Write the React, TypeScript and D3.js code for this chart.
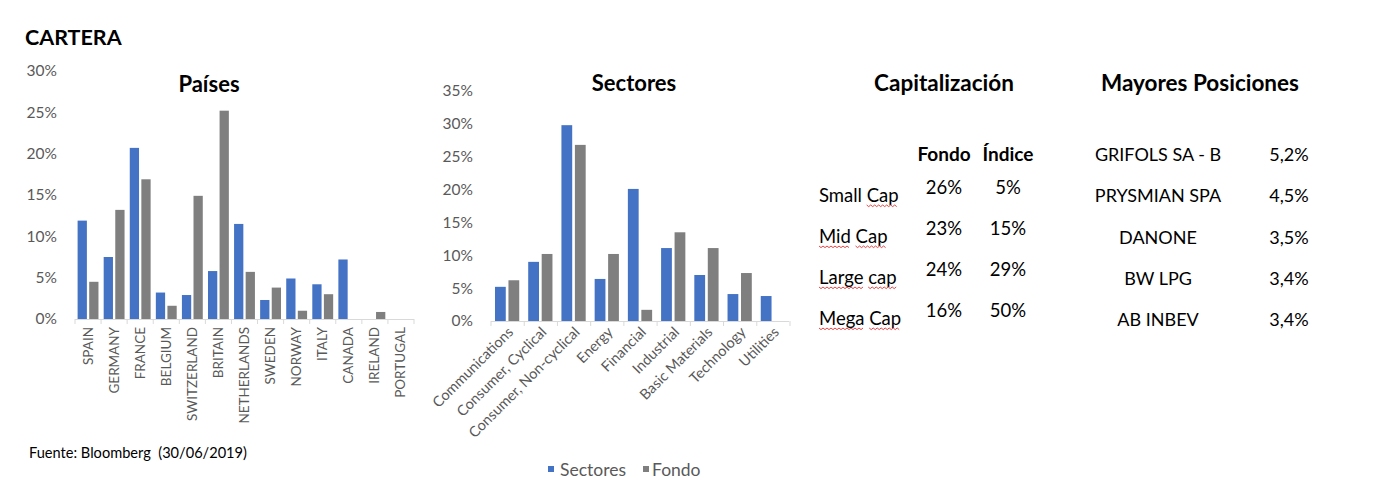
import React, { useLayoutEffect, useRef, useState } from 'react';
import * as d3 from 'd3';

// --- data ---
const countries = ['SPAIN', 'GERMANY', 'FRANCE', 'BELGIUM', 'SWITZERLAND', 'BRITAIN', 'NETHERLANDS', 'SWEDEN', 'NORWAY', 'ITALY', 'CANADA', 'IRELAND', 'PORTUGAL'];
const countryBlue = [11.9, 7.5, 20.7, 3.2, 2.9, 5.8, 11.5, 2.3, 4.9, 4.2, 7.2, 0, 0];
const countryGray = [4.5, 13.2, 16.9, 1.6, 14.9, 25.2, 5.7, 3.8, 1.0, 3.0, 0, 0.85, 0];
const countryTicks = [0, 5, 10, 15, 20, 25, 30];

const sectors = ['Communications', 'Consumer, Cyclical', 'Consumer, Non-cyclical', 'Energy', 'Financial', 'Industrial', 'Basic Materials', 'Technology', 'Utilities'];
const sectorBlue = [5.2, 9.0, 29.8, 6.4, 20.1, 11.1, 7.0, 4.1, 3.8];
const sectorGray = [6.2, 10.2, 26.8, 10.2, 1.7, 13.5, 11.1, 7.3, 0];
const sectorTicks = [0, 5, 10, 15, 20, 25, 30, 35];
const seriesNames = ['Sectores', 'Fondo'];

const capRows = ['Small Cap', 'Mid Cap', 'Large cap', 'Mega Cap'];
const capFondo = ['26%', '23%', '24%', '16%'];
const capIndice = ['5%', '15%', '29%', '50%'];
// words flagged by the spell checker (index of word in each row)
const capFlagged = [[1], [0, 1], [0, 1], [0, 1]];

const holdings = ['GRIFOLS SA - B', 'PRYSMIAN SPA', 'DANONE', 'BW LPG', 'AB INBEV'];
const holdingWeights = ['5,2%', '4,5%', '3,5%', '3,4%', '3,4%'];

const BLUE = '#4472C4';
const GRAY = '#7F7F7F';
const AXIS = '#D9D9D9';
const LABEL = '#595959';
const FONT = 'Lato, "Noto Sans", sans-serif';

interface BarsProps {
	cats: string[];
	a: number[];
	b: number[];
	ticks: number[];
	x0: number;
	x1: number;
	yTop: number;
	yBase: number;
	labelRight: number;
	padInner: number;
	padOuter: number;
	rotate: number;
}

const Bars: React.FC<BarsProps> = ({ cats, a, b, ticks, x0, x1, yTop, yBase, labelRight, padInner, padOuter, rotate }) => {
	const x = d3.scaleBand<string>().domain(cats).range([x0, x1]).paddingInner(padInner).paddingOuter(padOuter);
	const xs = d3.scaleBand<string>().domain(['a', 'b']).range([0, x.bandwidth()]).paddingInner(0.2);
	const y = d3.scaleLinear().domain([0, d3.max(ticks) as number]).range([yBase, yTop]);
	const step = x.step();
	const bounds = d3.range(cats.length + 1).map((i) => x0 + i * step);

	return (
		<g>
			{ticks.map((t) => (
				<text key={t} x={labelRight} y={y(t)} dy="0.35em" textAnchor="end" fill={LABEL} fontSize={15.5}>
					{t}%
				</text>
			))}
			{cats.map((c, i) => (
				<g key={c}>
					<rect x={(x(c) as number) + (xs('a') as number)} y={y(a[i])} width={xs.bandwidth()} height={yBase - y(a[i])} fill={BLUE} />
					<rect x={(x(c) as number) + (xs('b') as number)} y={y(b[i])} width={xs.bandwidth()} height={yBase - y(b[i])} fill={GRAY} />
				</g>
			))}
			<line x1={x0} x2={x1} y1={yBase + 0.5} y2={yBase + 0.5} stroke={AXIS} strokeWidth={1} />
			{bounds.map((bx, i) => (
				<line key={i} x1={bx} x2={bx} y1={yBase} y2={yBase + 5} stroke={AXIS} />
			))}
			{cats.map((c) => {
				const cx = (x(c) as number) + x.bandwidth() / 2;
				return rotate === -90 ? (
					<text key={c} transform={`translate(${cx + 4.5},${yBase + 8}) rotate(-90)`} textAnchor="end" fill={LABEL} fontSize={13.5}>
						{c}
					</text>
				) : (
					<text key={c} transform={`translate(${cx + 7},${yBase + 12}) rotate(-45)`} textAnchor="end" fill={LABEL} fontSize={14.5}>
						{c}
					</text>
				);
			})}
		</g>
	);
};

const wavy = (xa: number, xb: number, yy: number) => {
	const pts: [number, number][] = [];
	for (let px = xa, k = 0; px <= xb; px += 2, k++) pts.push([px, yy + (k % 2 === 0 ? 0 : 1.6)]);
	return d3.line()(pts) as string;
};

const App: React.FC = () => {
	const rowRefs = useRef<(SVGTextElement | null)[]>([]);
	const [marks, setMarks] = useState<{ x1: number; x2: number; y: number }[]>([]);

	useLayoutEffect(() => {
		const out: { x1: number; x2: number; y: number }[] = [];
		capRows.forEach((r, i) => {
			const el = rowRefs.current[i];
			if (!el) return;
			const words = r.split(' ');
			const baseY = Number(el.getAttribute('y'));
			let start = 0;
			words.forEach((w, wi) => {
				if (capFlagged[i].includes(wi)) {
					const s = el.getStartPositionOfChar(start).x;
					const e = el.getEndPositionOfChar(start + w.length - 1).x;
					out.push({ x1: s, x2: e, y: baseY + 3 });
				}
				start += w.length + 1;
			});
		});
		setMarks(out);
	}, []);

	return (
		<svg width={1375} height={496} style={{ position: 'absolute', left: 0, top: 0, background: '#fff' }} fontFamily={FONT}>
			<rect width={1375} height={496} fill="#fff" />
			<text x={25} y={45} fontSize={21.5} fontWeight="bold" fill="#000">CARTERA</text>

			<text x={209} y={92} textAnchor="middle" fontSize={22} fontWeight="bold" fill="#000">Países</text>
			<Bars cats={countries} a={countryBlue} b={countryGray} ticks={countryTicks}
				x0={75} x1={414} yTop={71} yBase={319} labelRight={57} padInner={0.2} padOuter={0.1} rotate={-90} />

			<text x={634} y={91} textAnchor="middle" fontSize={22} fontWeight="bold" fill="#000">Sectores</text>
			<Bars cats={sectors} a={sectorBlue} b={sectorGray} ticks={sectorTicks}
				x0={491} x1={789} yTop={91} yBase={321} labelRight={473} padInner={0.27} padOuter={0.12} rotate={-45} />

			<g fontSize={17.5} fill={LABEL}>
				<rect x={548} y={466} width={6} height={6} fill={BLUE} />
				<text x={560} y={476}>{seriesNames[0]}</text>
				<rect x={643} y={466} width={6} height={6} fill={GRAY} />
				<text x={652} y={476}>{seriesNames[1]}</text>
			</g>

			<text x={944} y={91} textAnchor="middle" fontSize={22.5} fontWeight="bold" fill="#000">Capitalización</text>
			<text x={944} y={161} textAnchor="middle" fontSize={19} fontWeight="bold" fill="#000">Fondo</text>
			<text x={1008} y={161} textAnchor="middle" fontSize={19} fontWeight="bold" fill="#000">Índice</text>
			{capRows.map((r, i) => (
				<g key={r} fontSize={18.5} fill="#000">
					<text ref={(el) => { rowRefs.current[i] = el; }} x={819} y={202 + i * 41}>{r}</text>
					<text x={944} y={194 + i * 41} textAnchor="middle">{capFondo[i]}</text>
					<text x={1008} y={194 + i * 41} textAnchor="middle">{capIndice[i]}</text>
				</g>
			))}
			{marks.map((m, i) => (
				<path key={i} d={wavy(m.x1, m.x2, m.y)} fill="none" stroke="#E03030" strokeWidth={0.9} />
			))}

			<text x={1200} y={91} textAnchor="middle" fontSize={22.5} fontWeight="bold" fill="#000">Mayores Posiciones</text>
			{holdings.map((h, i) => (
				<g key={h} fontSize={18} fill="#000">
					<text x={1158} y={161 + i * 41.3} textAnchor="middle">{h}</text>
					<text x={1289} y={161 + i * 41.3} textAnchor="middle">{holdingWeights[i]}</text>
				</g>
			))}

			<text x={29} y={458} fontSize={14.6} fill="#000" style={{ whiteSpace: 'pre' }}>Fuente: Bloomberg  (30/06/2019)</text>
		</svg>
	);
};

export default App;
